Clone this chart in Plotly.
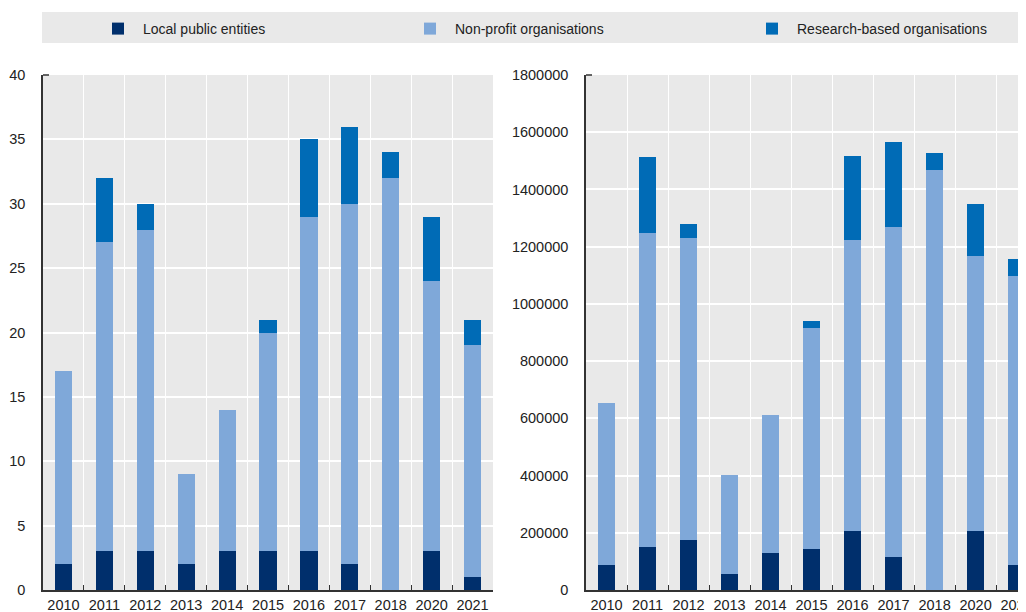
import plotly.graph_objects as go

years = ["2010", "2011", "2012", "2013", "2014", "2015", "2016", "2017", "2018", "2020", "2021"]

# Left panel: number of projects
count_local = [2, 3, 3, 2, 3, 3, 3, 2, 0, 3, 1]
count_nonprofit = [15, 24, 25, 7, 11, 17, 26, 28, 32, 21, 18]
count_research = [0, 5, 2, 0, 0, 1, 6, 6, 2, 5, 2]

# Right panel: amounts
amount_local = [88000, 150000, 175000, 57000, 128000, 142000, 207000, 117000, 0, 207000, 87000]
amount_nonprofit = [567000, 1099000, 1054000, 345000, 482000, 774000, 1018000, 1152000, 1469000, 959000, 1012000]
amount_research = [0, 266000, 50000, 0, 0, 24000, 293000, 296000, 58000, 182000, 59000]

names = ["Local public entities", "Non-profit organisations", "Research-based organisations"]
colors = ["#002F6C", "#7FA8D9", "#006BB6"]

# The page shows the figure offset by the default 8px body margin,
# so the figure is sized to fill the visible 1026x612 window.
W, H = 1018, 604
FONT = "Liberation Sans, Arial, sans-serif"

fig = go.Figure()
series = [
    (names[0], colors[0], count_local, amount_local, "legend"),
    (names[1], colors[1], count_nonprofit, amount_nonprofit, "legend2"),
    (names[2], colors[2], count_research, amount_research, "legend3"),
]
for name, col, cnt, amt, leg in series:
    fig.add_trace(go.Bar(x=years, y=cnt, name=name, marker=dict(color=col, line=dict(width=0)),
                         width=0.42, xaxis="x", yaxis="y", legend=leg))
    fig.add_trace(go.Bar(x=years, y=amt, name=name, marker=dict(color=col, line=dict(width=0)),
                         width=0.42, xaxis="x2", yaxis="y2", showlegend=False))

xcommon = dict(type="category", tickson="boundaries", ticks="inside", ticklen=5, tickcolor="#333333",
               showgrid=True, gridcolor="white", gridwidth=1.2, automargin=False,
               showline=True, linecolor="#333333", linewidth=1.5, ticklabelstandoff=1,
               tickangle=0,
               tickfont=dict(family=FONT, size=14.5, color="#222222"))
ycommon = dict(showgrid=True, gridcolor="white", gridwidth=1.5, ticks="", automargin=False,
               ticklabelstandoff=13, zeroline=False,
               showline=True, linecolor="#333333", linewidth=1.5,
               tickfont=dict(family=FONT, size=14.5, color="#222222"))

ybot, ytop = 22 / H, 537 / H
fig.update_layout(
    width=W, height=H,
    margin=dict(l=0, r=0, t=0, b=0, autoexpand=False),
    barmode="stack",
    paper_bgcolor="white",
    plot_bgcolor="#E9E9E9",
    font=dict(family=FONT, size=14, color="#222222"),
    xaxis=dict(domain=[35 / W, 485 / W], anchor="y", range=[-0.5, 10.5], **xcommon),
    yaxis=dict(domain=[ybot, ytop], anchor="x", range=[0, 40], dtick=5, **ycommon),
    xaxis2=dict(domain=[578 / W, 1.0], anchor="y2", range=[-0.5, 10.23], **xcommon),
    yaxis2=dict(domain=[ybot, ytop], anchor="x2", range=[0, 1800000], dtick=200000,
                tickformat="d", **ycommon),
    shapes=[
        dict(type="rect", xref="paper", yref="paper",
             x0=34 / W, x1=1.0, y0=1 - 35 / H, y1=1 - 4 / H,
             fillcolor="#E9E9E9", line=dict(width=0), layer="below"),
        dict(type="line", xref="x domain", yref="y domain", x0=0, x1=6 / 450, y0=1, y1=1,
             line=dict(color="#333333", width=1.5)),
        dict(type="line", xref="x2 domain", yref="y2 domain", x0=0, x1=6 / 440, y0=1, y1=1,
             line=dict(color="#333333", width=1.5)),
    ],
)

leg_common = dict(orientation="h", yanchor="middle", y=1 - 21 / H, xanchor="left",
                  itemwidth=40, bgcolor="rgba(0,0,0,0)",
                  font=dict(family=FONT, size=14, color="#222222"))
fig.update_layout(
    legend=dict(x=85 / W, **leg_common),
    legend2=dict(x=397 / W, **leg_common),
    legend3=dict(x=739 / W, **leg_common),
)

fig.write_html("out.html")
